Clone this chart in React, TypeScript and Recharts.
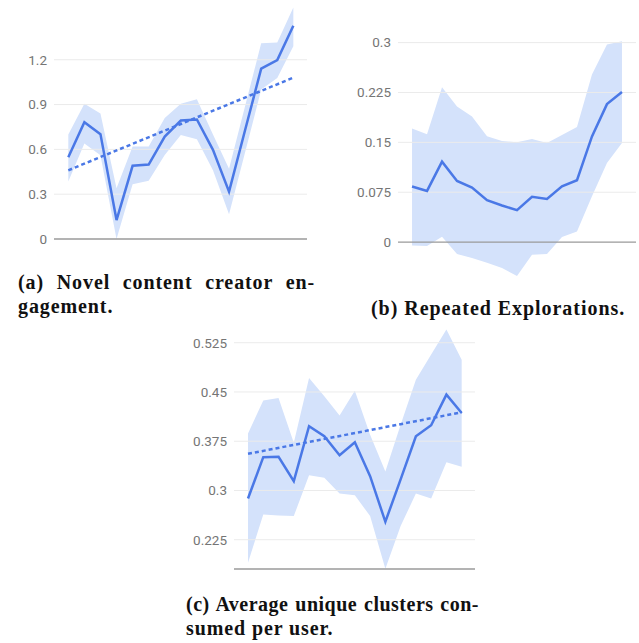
import React from 'react';
import { ComposedChart, Area, Line, XAxis, YAxis, ReferenceLine } from 'recharts';

const steps = [0, 1, 2, 3, 4, 5, 6, 7, 8, 9, 10, 11, 12, 13, 14];

// (a) Novel content creator engagement
const aMean = [0.547, 0.782, 0.702, 0.127, 0.49, 0.498, 0.686, 0.793, 0.8, 0.597, 0.317, 0.73, 1.14, 1.198, 1.428];
const aHigh = [0.7, 0.905, 0.84, 0.34, 0.62, 0.62, 0.81, 0.905, 0.936, 0.7, 0.47, 0.89, 1.31, 1.315, 1.55];
const aLow = [0.385, 0.64, 0.56, 0.0, 0.367, 0.39, 0.563, 0.697, 0.668, 0.46, 0.165, 0.58, 1.0, 1.077, 1.29];
const aTrend = [0.46, null, null, null, null, null, null, null, null, null, null, null, null, null, 1.08];
const aTicks = [0, 0.3, 0.6, 0.9, 1.2];

// (b) Repeated Explorations
const bMean = [0.0837, 0.077, 0.121, 0.092, 0.082, 0.063, 0.055, 0.048, 0.068, 0.065, 0.084, 0.093, 0.159, 0.2075, 0.2256];
const bHigh = [0.171, 0.162, 0.233, 0.204, 0.189, 0.159, 0.152, 0.15, 0.155, 0.149, 0.161, 0.173, 0.252, 0.297, 0.302];
const bLow = [-0.005, -0.006, 0.008, -0.018, -0.024, -0.031, -0.039, -0.051, -0.019, -0.018, 0.0075, 0.016, 0.069, 0.119, 0.149];
const bTicks = [0, 0.075, 0.15, 0.225, 0.3];

// (c) Average unique clusters consumed per user
const cMean = [0.2878, 0.3507, 0.3512, 0.3142, 0.3978, 0.3826, 0.3537, 0.3735, 0.3218, 0.2523, 0.317, 0.3826, 0.3994, 0.446, 0.418];
const cHigh = [0.3867, 0.4369, 0.441, 0.3725, 0.4714, 0.4435, 0.414, 0.452, 0.385, 0.329, 0.4, 0.4688, 0.507, 0.545, 0.4992];
const cLow = [0.19, 0.2635, 0.262, 0.261, 0.3233, 0.3193, 0.2954, 0.2929, 0.261, 0.1808, 0.2457, 0.2954, 0.2878, 0.343, 0.336];
const cTrend = [0.3558, null, null, null, null, null, null, null, null, null, null, null, null, null, 0.4191];
const cTicks = [0.225, 0.3, 0.375, 0.45, 0.525];

const LINE = '#4a78e6';
const BAND = '#d4e2fb';

type PanelProps = {
  left: number;
  top: number;
  width: number;
  height: number;
  margin: { top: number; right: number; bottom: number; left: number };
  yWidth: number;
  xDomain: [number, number];
  yDomain: [number, number];
  ticks: number[];
  baseline: number;
  mean: number[];
  low: number[];
  high: number[];
  trend?: (number | null)[];
};

function Panel(p: PanelProps) {
  const data = steps.map((s, k) => ({
    s,
    mean: p.mean[k],
    band: [p.low[k], p.high[k]],
    trend: p.trend ? p.trend[k] : null,
  }));
  return (
    <div style={{ position: 'absolute', left: p.left, top: p.top }}>
      <ComposedChart width={p.width} height={p.height} data={data} margin={p.margin}>
        <XAxis type="number" dataKey="s" domain={p.xDomain} hide allowDataOverflow />
        <YAxis
          type="number"
          domain={p.yDomain}
          ticks={p.ticks}
          interval={0}
          width={p.yWidth}
          axisLine={false}
          tickLine={false}
          tickSize={0}
          tickMargin={7}
          allowDataOverflow
          tick={{ fill: '#757575', fontSize: 13.5, fontFamily: 'Roboto' }}
        />
        {p.ticks
          .filter((t) => t !== p.baseline)
          .map((t) => (
            <ReferenceLine key={'g' + t} y={t} stroke="#ebebeb" strokeWidth={1} />
          ))}
        <Area
          dataKey="band"
          type="linear"
          stroke="none"
          fill={BAND}
          fillOpacity={1}
          isAnimationActive={false}
          activeDot={false}
        />
        <ReferenceLine y={p.baseline} stroke="#9a9a9a" strokeWidth={1.3} />
        {p.trend ? (
          <Line
            dataKey="trend"
            type="linear"
            connectNulls
            stroke={LINE}
            strokeWidth={2.5}
            strokeDasharray="4 3"
            dot={false}
            activeDot={false}
            isAnimationActive={false}
          />
        ) : null}
        <Line
          dataKey="mean"
          type="linear"
          stroke={LINE}
          strokeWidth={2.5}
          dot={false}
          activeDot={false}
          isAnimationActive={false}
        />
      </ComposedChart>
    </div>
  );
}

const capBase: React.CSSProperties = {
  position: 'absolute',
  fontFamily: '"Liberation Serif", "Times New Roman", serif',
  fontWeight: 'bold',
  fontSize: 20,
  lineHeight: '24px',
  color: '#111',
  whiteSpace: 'nowrap',
};

export default function App() {
  return (
    <div style={{ position: 'absolute', left: 0, top: 0, width: 639, height: 643, background: '#fff', overflow: 'hidden' }}>
      <Panel
        left={0}
        top={0}
        width={320}
        height={252}
        margin={{ top: 0, right: 13, bottom: 11, left: 0 }}
        yWidth={54}
        xDomain={[-0.89, 14.85]}
        yDomain={[-0.0134, 1.6]}
        ticks={aTicks}
        baseline={0}
        mean={aMean}
        low={aLow}
        high={aHigh}
        trend={aTrend}
      />
      <Panel
        left={330}
        top={0}
        width={309}
        height={280}
        margin={{ top: 20, right: 3, bottom: 2, left: 0 }}
        yWidth={68}
        xDomain={[-0.936, 14.936]}
        yDomain={[-0.054, 0.334]}
        ticks={bTicks}
        baseline={0}
        mean={bMean}
        low={bLow}
        high={bHigh}
      />
      <Panel
        left={180}
        top={320}
        width={300}
        height={250}
        margin={{ top: 5, right: 5, bottom: 1, left: 0 }}
        yWidth={54}
        xDomain={[-0.918, 14.873]}
        yDomain={[0.1804, 0.552]}
        ticks={cTicks}
        baseline={0.1804}
        mean={cMean}
        low={cLow}
        high={cHigh}
        trend={cTrend}
      />

      <div style={{ ...capBase, left: 18, top: 270, width: 297, textAlign: 'justify', textAlignLast: 'justify', letterSpacing: 0.9 }}>
        (a) Novel content creator en-
      </div>
      <div style={{ ...capBase, left: 18, top: 294, letterSpacing: 0.9 }}>gagement.</div>

      <div style={{ ...capBase, left: 371, top: 296, letterSpacing: 0.95 }}>(b) Repeated Explorations.</div>

      <div style={{ ...capBase, left: 186, top: 592, width: 293, textAlign: 'justify', textAlignLast: 'justify', letterSpacing: 0.5 }}>
        (c) Average unique clusters con-
      </div>
      <div style={{ ...capBase, left: 186, top: 616, letterSpacing: 0.9 }}>sumed per user.</div>
    </div>
  );
}
